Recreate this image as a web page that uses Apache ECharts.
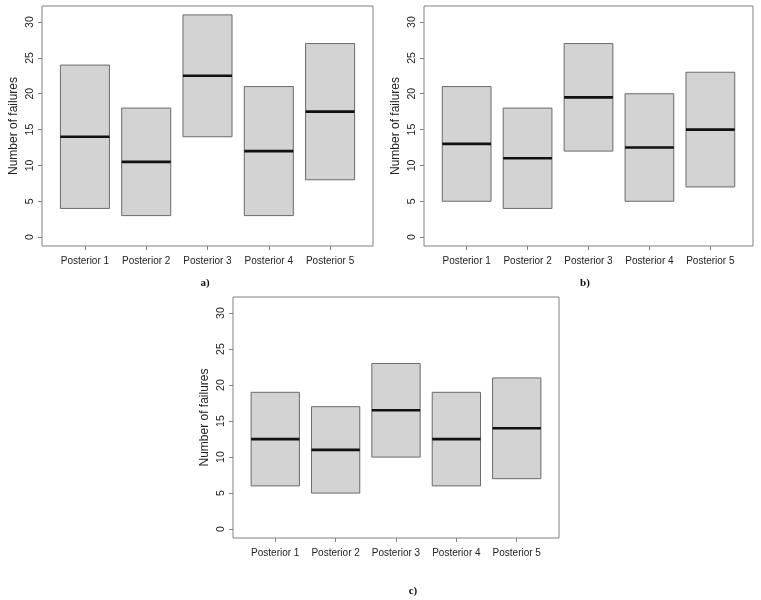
<!DOCTYPE html>
<html>
<head>
<meta charset="utf-8">
<script src="https://cdn.jsdelivr.net/npm/echarts@6/dist/echarts.min.js"></script>
<style>
html,body{margin:0;padding:0;background:#fff;}
#chart{width:761px;height:600px;}
</style>
</head>
<body>
<div id="chart"></div>
<script>
// Categories and tick labels
var categories = ['Posterior 1', 'Posterior 2', 'Posterior 3', 'Posterior 4', 'Posterior 5'];
var yTicks = [0, 5, 10, 15, 20, 25, 30];
var panelLabels = ['a)', 'b)', 'c)'];

// Panel a)
var lowA = [4, 3, 14, 3, 8];
var highA = [24, 18, 31, 21, 27];
var medA = [14, 10.5, 22.5, 12, 17.5];
// Panel b)
var lowB = [5, 4, 12, 5, 7];
var highB = [21, 18, 27, 20, 23];
var medB = [13, 11, 19.5, 12.5, 15];
// Panel c)
var lowC = [6, 5, 10, 6, 7];
var highC = [19, 17, 23, 19, 21];
var medC = [12.5, 11, 16.5, 12.5, 14];

var FONT = '"Liberation Sans", Arial, sans-serif';
var grids = [
  {left: 42, top: 6, width: 331, height: 240},
  {left: 424, top: 6, width: 329, height: 240},
  {left: 233, top: 297, width: 326, height: 241}
];
var panels = [[lowA, highA, medA], [lowB, highB, medB], [lowC, highC, medC]];

function build(p) {
  var d = [];
  for (var i = 0; i < categories.length; i++) {
    d.push([i + 1, p[0][i], p[1][i], p[2][i]]);
  }
  return d;
}

function renderItem(params, api) {
  var x = api.value(0), lo = api.value(1), hi = api.value(2), med = api.value(3);
  var tl = api.coord([x - 0.4, hi]);
  var br = api.coord([x + 0.4, lo]);
  var m1 = api.coord([x - 0.4, med]);
  var m2 = api.coord([x + 0.4, med]);
  return {
    type: 'group',
    children: [
      {type: 'rect', shape: {x: tl[0], y: tl[1], width: br[0] - tl[0], height: br[1] - tl[1]},
       style: {fill: '#d3d3d3', stroke: '#6a6a6a', lineWidth: 1}},
      {type: 'line', shape: {x1: m1[0], y1: m1[1], x2: m2[0], y2: m2[1]},
       style: {stroke: '#111111', lineWidth: 2.6}}
    ]
  };
}

var option = {
  animation: false,
  backgroundColor: '#ffffff',
  title: [
    {text: panelLabels[0], left: 200, top: 273, textAlign: 'center',
     textStyle: {fontFamily: '"Liberation Serif", "Times New Roman", serif', fontWeight: 'bold', fontSize: 11, color: '#111'}},
    {text: panelLabels[1], left: 580, top: 273, textAlign: 'center',
     textStyle: {fontFamily: '"Liberation Serif", "Times New Roman", serif', fontWeight: 'bold', fontSize: 11, color: '#111'}},
    {text: panelLabels[2], left: 408, top: 581, textAlign: 'center',
     textStyle: {fontFamily: '"Liberation Serif", "Times New Roman", serif', fontWeight: 'bold', fontSize: 11, color: '#111'}}
  ],
  grid: grids.map(function (g) {
    return Object.assign({show: true, borderColor: '#808080', borderWidth: 1, backgroundColor: 'transparent', containLabel: false}, g);
  }),
  xAxis: grids.map(function (g, i) {
    return {
      type: 'value', gridIndex: i, min: 0.3, max: 5.7, position: 'bottom',
      splitLine: {show: false},
      axisLine: {show: false, onZero: false},
      axisTick: {show: true, inside: false, length: 4, lineStyle: {color: '#808080'}, customValues: [1, 2, 3, 4, 5]},
      axisLabel: {
        show: true, margin: 10, color: '#222', fontSize: 10, fontFamily: FONT,
        customValues: [1, 2, 3, 4, 5],
        formatter: function (v) { return categories[Math.round(v) - 1] || ''; }
      }
    };
  }),
  yAxis: grids.map(function (g, i) {
    return {
      type: 'value', gridIndex: i, min: -1.24, max: 32.24, position: 'left',
      name: 'Number of failures', nameLocation: 'middle', nameRotate: 90, nameGap: 22,
      nameTextStyle: {fontFamily: FONT, fontSize: 12, color: '#222'},
      splitLine: {show: false},
      axisLine: {show: false, onZero: false},
      axisTick: {show: true, inside: false, length: 4, lineStyle: {color: '#808080'}, customValues: yTicks},
      axisLabel: {
        show: true, rotate: 90, margin: 6, color: '#222', fontSize: 10.5, fontFamily: FONT,
        customValues: yTicks
      }
    };
  }),
  series: panels.map(function (p, i) {
    return {
      type: 'custom', xAxisIndex: i, yAxisIndex: i,
      renderItem: renderItem, clip: false,
      encode: {x: 0, y: [1, 2, 3]},
      data: build(p)
    };
  })
};

var chart = echarts.init(document.getElementById('chart'), null, {renderer: 'canvas'});
chart.setOption(option);
</script>
</body>
</html>
